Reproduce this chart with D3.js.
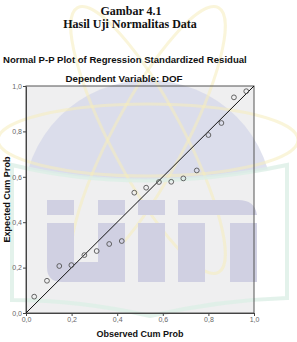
<!DOCTYPE html>
<html>
<head>
<meta charset="utf-8">
<script src="https://cdn.jsdelivr.net/npm/d3@7"></script>
<style>
  html, body { margin: 0; padding: 0; background: #fff; }
  svg { display: block; }
</style>
</head>
<body>
<script>
// ---- data ----
const observedCumProb = [0.036, 0.092, 0.146, 0.199, 0.256, 0.310, 0.365, 0.420, 0.475, 0.527,
                         0.583, 0.637, 0.690, 0.749, 0.800, 0.857, 0.912, 0.966];
const expectedCumProb = [0.072, 0.142, 0.207, 0.211, 0.255, 0.273, 0.304, 0.317, 0.530, 0.552,
                         0.577, 0.578, 0.593, 0.628, 0.784, 0.837, 0.950, 0.977];
const tickValues = [0.0, 0.2, 0.4, 0.6, 0.8, 1.0];
const tickLabels = ["0,0", "0,2", "0,4", "0,6", "0,8", "1,0"];
const captionLines = ["Gambar 4.1", "Hasil Uji Normalitas Data"];
const chartTitle = "Normal P-P Plot of Regression Standardized Residual";
const chartSubtitle = "Dependent Variable: DOF";
const xTitle = "Observed Cum Prob";
const yTitle = "Expected Cum Prob";

// ---- layout ----
const W = 297, H = 342;
const plot = { left: 26, right: 254, top: 86, bottom: 313 };

const svg = d3.select("body").append("svg").attr("width", W).attr("height", H);

const x = d3.scaleLinear().domain([0, 1]).range([plot.left, plot.right]);
const y = d3.scaleLinear().domain([0, 1]).range([plot.bottom, plot.top]);

// plot background
svg.append("rect")
  .attr("x", plot.left).attr("y", plot.top)
  .attr("width", plot.right - plot.left).attr("height", plot.bottom - plot.top)
  .attr("fill", "#efeff0");

// ---- watermark (decorative, faint) ----
const wm = svg.append("g").attr("pointer-events", "none");
const defs = svg.append("defs");
defs.append("clipPath").attr("id", "domeClip")
  .append("path").attr("d", "M0,0 L297,0 L297,164 Q140,196 0,163 Z");
// dome
wm.append("circle").attr("cx", 148).attr("cy", 205).attr("r", 125)
  .attr("fill", "#d3d5e8").attr("opacity", 0.7).attr("clip-path", "url(#domeClip)");
// yellow orbits
const orbitG = wm.append("g").attr("transform", "translate(148,140)");
[[0, 150, 36], [62, 150, 36], [-62, 150, 36]].forEach(([rot, rx, ry]) => {
  orbitG.append("ellipse").attr("rx", rx).attr("ry", ry)
    .attr("transform", `rotate(${rot})`)
    .attr("fill", "none").attr("stroke", "#f6ecbc").attr("stroke-width", 3).attr("opacity", 0.55);
});
// green band outline
wm.append("path")
  .attr("d", "M12,300 L12,165 Q140,196 287,165 L287,298 Q220,300 150,316 Q80,300 12,300 Z")
  .attr("fill", "none").attr("stroke", "#dcefe6").attr("stroke-width", 4).attr("opacity", 0.8);
// "UIN" blocks
const lav = "#d0d0e2";
const blocks = [
  [47, 200, 27, 15], [98, 200, 27, 15], [138, 200, 27, 15],
  [74, 262, 24, 20],
  [138, 223, 27, 59], [178, 223, 27, 59], [230, 223, 27, 59]
];
blocks.forEach(([bx, by, bw, bh]) => {
  wm.append("rect").attr("x", bx).attr("y", by).attr("width", bw).attr("height", bh).attr("fill", lav);
});
// U lower: left stem w/ rounded bottom-left, right stem
wm.append("path").attr("d", "M47,223 L74,223 L74,282 L62,282 Q47,282 47,267 Z").attr("fill", lav);
wm.append("rect").attr("x", 98).attr("y", 223).attr("width", 27).attr("height", 59).attr("fill", lav);
// N top bar with rounded top-right
wm.append("path").attr("d", "M178,200 L238,200 Q255,200 257,215 L178,215 Z").attr("fill", lav);

// ---- captions ----
svg.append("text").attr("x", 131).attr("y", 15).attr("text-anchor", "middle")
  .attr("font-family", "Liberation Serif, Times New Roman, serif").attr("font-weight", "bold")
  .attr("font-size", 12).attr("fill", "#111").text(captionLines[0]);
svg.append("text").attr("x", 130).attr("y", 28).attr("text-anchor", "middle")
  .attr("font-family", "Liberation Serif, Times New Roman, serif").attr("font-weight", "bold")
  .attr("font-size", 12).attr("fill", "#111").text(captionLines[1]);

function fit(sel, target) {
  const len = sel.node().getComputedTextLength();
  const fs = parseFloat(sel.attr("font-size"));
  sel.attr("font-size", (fs * target / len).toFixed(2));
}
const sans = "Liberation Sans, Arial, sans-serif";
const t1 = svg.append("text").attr("x", 3).attr("y", 63)
  .attr("font-family", sans).attr("font-weight", "bold").attr("font-size", 9)
  .attr("fill", "#111").text(chartTitle);
fit(t1, 244);
const t2 = svg.append("text").attr("x", 124).attr("y", 82).attr("text-anchor", "middle")
  .attr("font-family", sans).attr("font-weight", "bold").attr("font-size", 9)
  .attr("fill", "#111").text(chartSubtitle);
fit(t2, 117);

// ---- frame ----
svg.append("rect")
  .attr("x", plot.left).attr("y", plot.top)
  .attr("width", plot.right - plot.left).attr("height", plot.bottom - plot.top)
  .attr("fill", "none").attr("stroke", "#555").attr("stroke-width", 1);

// ---- axes ----
const fmt = d => tickLabels[tickValues.indexOf(d)];
const xAxis = svg.append("g").attr("transform", `translate(0,${plot.bottom})`)
  .call(d3.axisBottom(x).tickValues(tickValues).tickFormat(fmt).tickSize(3).tickSizeOuter(0));
const yAxis = svg.append("g").attr("transform", `translate(${plot.left},0)`)
  .call(d3.axisLeft(y).tickValues(tickValues).tickFormat(fmt).tickSize(3).tickSizeOuter(0));
[xAxis, yAxis].forEach(a => {
  a.select(".domain").attr("stroke", "#444");
  a.selectAll(".tick line").attr("stroke", "#444");
  a.selectAll(".tick text").attr("font-family", sans).attr("font-size", 7).attr("fill", "#666");
});
xAxis.selectAll(".tick text").attr("dy", "0.71em").attr("y", 4);
yAxis.selectAll(".tick text").attr("x", -4);

// axis titles
const xt = svg.append("text").attr("x", (plot.left + plot.right) / 2).attr("y", 337)
  .attr("text-anchor", "middle").attr("font-family", sans).attr("font-weight", "bold")
  .attr("font-size", 9).attr("fill", "#111").text(xTitle);
fit(xt, 87);
const yt = svg.append("text")
  .attr("transform", `translate(10,${(plot.top + plot.bottom) / 2}) rotate(-90)`)
  .attr("text-anchor", "middle").attr("font-family", sans).attr("font-weight", "bold")
  .attr("font-size", 9).attr("fill", "#111").text(yTitle);
fit(yt, 86);

// ---- diagonal reference line ----
svg.append("line")
  .attr("x1", x(0)).attr("y1", y(0)).attr("x2", x(1)).attr("y2", y(1))
  .attr("stroke", "#111").attr("stroke-width", 1);

// ---- points ----
svg.append("g").selectAll("circle")
  .data(observedCumProb.map((v, i) => [v, expectedCumProb[i]]))
  .join("circle")
  .attr("cx", d => x(d[0])).attr("cy", d => y(d[1])).attr("r", 2.4)
  .attr("fill", "none").attr("stroke", "#555").attr("stroke-width", 0.9);
</script>
</body>
</html>
